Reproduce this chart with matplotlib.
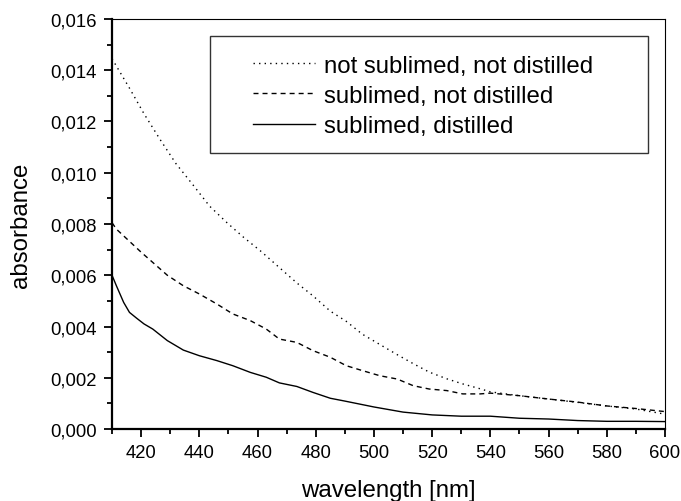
import matplotlib
matplotlib.use("Agg")
import matplotlib.pyplot as plt
from matplotlib.patches import Rectangle
from matplotlib.ticker import MultipleLocator, FuncFormatter

plt.rcParams['font.family'] = ['Liberation Sans', 'DejaVu Sans']

# Absorption spectra (wavelength in nm, absorbance)
wl_a = [410, 416, 421, 426.5, 432, 438, 443.5, 449.5, 455, 461, 466.5, 473.5, 479, 485,
        490.5, 496, 502, 508, 513.5, 519, 525, 530.5, 536.5, 540, 550, 560, 570, 580,
        590, 600]
not_sub_not_dist = [0.01445, 0.0133, 0.0123, 0.0113, 0.01035, 0.0095, 0.0087,
                    0.00805, 0.0075, 0.00695, 0.0064, 0.0057, 0.0052, 0.0046,
                    0.0042, 0.0037, 0.0033, 0.0029, 0.00255, 0.00222, 0.00196,
                    0.00176, 0.00157, 0.00145, 0.0013, 0.00117, 0.00104, 0.0009,
                    0.00078, 0.00058]

wl_b = [410, 411.5, 420, 429, 434.5, 440, 446, 451.5, 457.5, 463, 467.5, 473.5, 479,
        485, 490.5, 496, 502, 508, 513.5, 519, 525, 530.5, 536.5, 540, 550, 560, 570,
        580, 590, 600]
sub_not_dist = [0.00805, 0.0078, 0.0069, 0.0060, 0.00559, 0.00527, 0.00488, 0.00449,
                0.00423, 0.0039, 0.00351, 0.00338, 0.00306, 0.0028, 0.00247, 0.00228,
                0.00208, 0.00195, 0.00169, 0.00156, 0.0015, 0.00137, 0.00137, 0.0014,
                0.0013, 0.00117, 0.00105, 0.0009, 0.0008, 0.00068]

wl_c = [410, 411.5, 414, 416, 418.5, 421, 424, 429, 434.5, 440, 446, 451.5, 457.5,
        463, 467.5, 473.5, 479, 485, 490, 500, 510, 520, 530, 540, 550, 560, 570,
        580, 590, 600]
sub_dist = [0.0060, 0.00559, 0.00494, 0.00455, 0.00432, 0.0041, 0.0039, 0.00345,
            0.00308, 0.00286, 0.00267, 0.00247, 0.00221, 0.00202, 0.0018, 0.00166,
            0.00143, 0.0012, 0.00109, 0.00086, 0.00066, 0.00055, 0.0005, 0.0005,
            0.00042, 0.00039, 0.00033, 0.0003, 0.0003, 0.00029]

labels = ['not sublimed, not distilled', 'sublimed, not distilled', 'sublimed, distilled']

fig = plt.figure(figsize=(6.81, 5.02), dpi=100)
ax = fig.add_axes([0.1645, 0.1434, 0.812, 0.8168])

ax.plot(wl_a, not_sub_not_dist, color='black', lw=1.0, linestyle=(0, (1, 3)), label=labels[0])
ax.plot(wl_b, sub_not_dist, color='black', lw=1.0, linestyle=(0, (3.6, 2.9)), label=labels[1])
ax.plot(wl_c, sub_dist, color='black', lw=1.0, linestyle='-', label=labels[2])

ax.set_xlim(410, 600)
ax.set_ylim(0, 0.016)
ax.xaxis.set_major_locator(MultipleLocator(20))
ax.xaxis.set_minor_locator(MultipleLocator(10))
ax.yaxis.set_major_locator(MultipleLocator(0.002))
ax.yaxis.set_minor_locator(MultipleLocator(0.001))
ax.yaxis.set_major_formatter(FuncFormatter(lambda v, p: f"{v:.3f}".replace('.', ',')))
ax.xaxis.set_major_formatter(FuncFormatter(lambda v, p: f"{v:.0f}"))

ax.tick_params(which='both', direction='out', top=False, right=False, width=1.3,
               labelsize=13.3, pad=5)
ax.tick_params(which='major', length=6)
ax.tick_params(which='minor', length=3.5)

for s in ['left', 'bottom']:
    ax.spines[s].set_linewidth(1.6)
for s in ['top', 'right']:
    ax.spines[s].set_linewidth(0.8)

ax.set_xlabel('wavelength [nm]', fontsize=17.3, labelpad=13)
ax.set_ylabel('absorbance', fontsize=17.3, labelpad=13)

ax.add_patch(Rectangle((0.177, 0.673), 0.792, 0.2855, transform=ax.transAxes,
                       fill=False, edgecolor='#333333', lw=1.0, zorder=5))
ax.legend(loc='upper left', bbox_to_anchor=(0.255, 0.913), frameon=False, fontsize=17.3,
          handlelength=2.58, handletextpad=0.37, labelspacing=0.34, borderpad=0,
          borderaxespad=0)

fig.savefig('out.png', dpi=100)
